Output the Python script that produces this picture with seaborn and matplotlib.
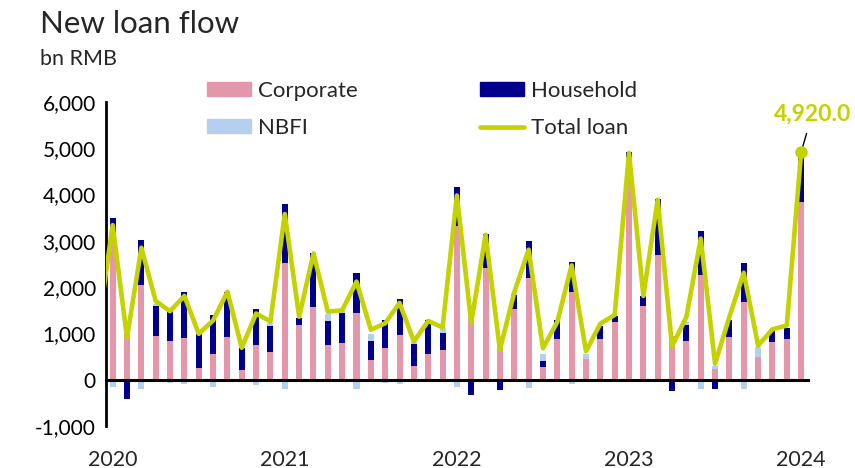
import numpy as np
import pandas as pd
import matplotlib
matplotlib.use('Agg')
import matplotlib.pyplot as plt
import matplotlib.ticker as mticker
import seaborn as sns
from matplotlib.patches import Patch
from matplotlib.lines import Line2D

# 月份 (柱狀圖 2020-01 ~ 2024-01, 折線多一個 2019-12 起點)
months = pd.period_range('2020-01', '2024-01', freq='M')
line_months = pd.period_range('2019-12', '2024-01', freq='M')

# bn RMB, 估計值
corporate = [2950, 1250, 2050, 940, 830, 910, 250, 565, 920, 210, 760, 600,
             2530, 1180, 1580, 740, 790, 1440, 430, 685, 970, 300, 560, 650,
             3330, 1560, 2420, 850, 1520, 2200, 280, 870, 1900, 450, 870, 1255,
             4820, 1600, 2690, 950, 840, 2270, 230, 930, 1670, 500, 810, 880,
             3850]
household = [540, -420, 960, 660, 730, 990, 740, 840, 980, 480, 760, 570,
             1270, 150, 1150, 530, 650, 870, 400, 600, 780, 480, 720, 370,
             840, -340, 720, -220, 300, 800, 120, 420, 650, 0, 300, 130,
             100, 210, 1220, -240, 350, 950, -210, 350, 850, -30, 240, 240,
             1050]
nbfi = [-160, 0, -200, 40, -80, -90, 0, -150, 0, 0, -110, 60,
        -200, 0, 0, 160, 40, -190, 160, -70, -90, 30, 0, 90,
        -150, 0, 0, 15, 60, -170, 145, 0, -100, 100, 0, 0,
        -50, 0, 0, 0, 50, -190, 70, 0, -190, 200, 0, 0,
        0]
total_loan = [1140,
              3340, 905, 2850, 1700, 1480, 1810, 992, 1280, 1900, 689, 1430, 1260,
              3580, 1360, 2730, 1470, 1500, 2120, 1080, 1220, 1660, 826, 1270, 1130,
              3980, 1230, 3130, 645, 1890, 2810, 679, 1250, 2470, 615, 1210, 1400,
              4900, 1810, 3890, 719, 1360, 3050, 345, 1360, 2310, 738, 1090, 1170,
              4920]

series_names = ['Corporate', 'Household', 'NBFI']
series_colors = ['#E497AB', '#00008C', '#B4D0EE']
line_color = '#C4D200'

sns.set_style('white')
plt.rcParams['font.family'] = ['Lato', 'DejaVu Sans']

fig = plt.figure(figsize=(8.55, 4.68), dpi=100)
ax = fig.add_axes([105.5 / 855, 42 / 468, 702.8 / 855, 324 / 468])

# 堆疊柱狀 (正值往上疊, 負值往下疊)
x = np.arange(len(months))
pos_base = np.zeros(len(x))
neg_base = np.zeros(len(x))
for vals, name, color in zip([corporate, household, nbfi], series_names, series_colors):
    v = np.array(vals, dtype=float)
    bottom = np.where(v >= 0, pos_base, neg_base)
    ax.bar(x, v, bottom=bottom, width=0.42, color=color, linewidth=0, zorder=2)
    pos_base += np.clip(v, 0, None)
    neg_base += np.clip(v, None, 0)

# 總貸款折線
line_x = np.arange(len(line_months)) - 1
sns.lineplot(x=line_x, y=total_loan, color=line_color, linewidth=3.3, ax=ax, zorder=3)
ax.plot(line_x[-1], total_loan[-1], 'o', ms=8, color=line_color, zorder=4, clip_on=False)
ax.annotate(f'{total_loan[-1]:,.1f}', xy=(line_x[-1], total_loan[-1]), xytext=(8, 27),
            textcoords='offset points', ha='center', va='center', fontsize=16.5,
            fontweight='bold', color=line_color, annotation_clip=False,
            arrowprops=dict(arrowstyle='-', color='black', lw=1, shrinkA=4, shrinkB=4))

ax.set_xlim(-0.5, len(months) - 0.5)
ax.set_ylim(-1000, 6000)
ax.set_yticks(np.arange(-1000, 6001, 1000))
ax.yaxis.set_major_formatter(mticker.FuncFormatter(lambda v, p: f'{v:,.0f}'))
ax.tick_params(axis='y', direction='in', length=6, width=2, labelsize=15, pad=7,
               colors='black')

for s in ['top', 'right']:
    ax.spines[s].set_visible(False)
ax.spines['left'].set_linewidth(2)
ax.spines['left'].set_color('black')
ax.spines['bottom'].set_position(('data', 0))
ax.spines['bottom'].set_linewidth(2.2)
ax.spines['bottom'].set_color('black')
ax.spines['bottom'].set_zorder(5)

# 年份分隔刻度在零軸上, 年份標籤放在下方
jan_pos = [i for i, m in enumerate(months) if m.month == 1]
years = [str(months[i].year) for i in jan_pos]
ax.set_xticks([p - 0.5 for p in jan_pos])
ax.set_xticklabels([])
ax.tick_params(axis='x', direction='in', length=5, width=2, colors='black')

sec = ax.secondary_xaxis('bottom')
sec.set_xticks(jan_pos)
sec.set_xticklabels(years)
sec.tick_params(length=0, labelsize=15.5, pad=17)
for s in sec.spines.values():
    s.set_visible(False)

# 圖例 (2x2)
handles = [Patch(color=series_colors[0]), Patch(color=series_colors[2]),
           Patch(color=series_colors[1]), Line2D([], [], color=line_color, lw=3.3)]
labels = ['Corporate', 'NBFI', 'Household', 'Total loan']
fig.legend(handles, labels, ncol=2, loc='upper left',
           bbox_to_anchor=(207 / 855, 1 - 81 / 468), frameon=False, fontsize=16,
           handlelength=1.98, handleheight=0.62, handletextpad=0.32,
           columnspacing=5.5, labelspacing=0.77, borderpad=0, borderaxespad=0)

fig.text(40 / 855, 1 - 33 / 468, 'New loan flow', fontsize=22.5, va='baseline')
fig.text(40 / 855, 1 - 65 / 468, 'bn RMB', fontsize=15.5, va='baseline')

fig.savefig('out.png', dpi=100)
plt.close(fig)
